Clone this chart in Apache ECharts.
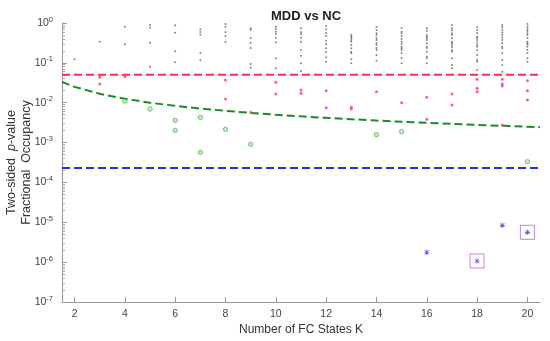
<!DOCTYPE html>
<html><head><meta charset="utf-8">
<script src="https://cdn.jsdelivr.net/npm/echarts@6/dist/echarts.min.js"></script>
<style>html,body{margin:0;padding:0;background:#fff}#c{width:550px;height:341px}</style>
</head><body><div id="c"></div>
<script>
// ---- data ----
var xTicks = [2,4,6,8,10,12,14,16,18,20];
var yTickExps = [0,-1,-2,-3,-4,-5,-6,-7];
// not significant (p > 0.05)
var nsPoints = [
 [2,0.123],[3,0.34],[4,0.81],[4,0.292],
 [5,0.89],[5,0.76],[5,0.32],[5,0.080],
 [6,0.875],[6,0.571],[6,0.195],[6,0.103],
 [7,0.695],[7,0.594],[7,0.508],[7,0.177],[7,0.116],
 [8,0.944],[8,0.79],[8,0.585],[8,0.472],[8,0.334],
 [9,0.736],[9,0.667],[9,0.42],[9,0.315],[9,0.236],[9,0.0936],[9,0.0756],
 [10,0.81],[10,0.707],[10,0.605],[10,0.53],[10,0.428],[10,0.328],[10,0.130],[10,0.0730],
 [11,0.736],[11,0.585],[11,0.521],[11,0.428],[11,0.34],[11,0.210],[11,0.151],[11,0.0975],[11,0.0625],
 [12,0.84],[12,0.695],[12,0.561],[12,0.472],[12,0.36],[12,0.292],[12,0.232],[12,0.187],[12,0.138],[12,0.107],
 [13,0.5],[13,0.453],[13,0.42],[13,0.375],[13,0.34],[13,0.281],[13,0.232],[13,0.191],[13,0.174],[13,0.123],[13,0.0975],
 [14,0.79],[14,0.667],[14,0.552],[14,0.5],[14,0.42],[14,0.375],[14,0.31],[14,0.281],[14,0.236],[14,0.210],[14,0.157],[14,0.113],
 [15,0.75],[15,0.605],[15,0.552],[15,0.472],[15,0.397],[15,0.34],[15,0.297],[15,0.254],[15,0.232],[15,0.210],[15,0.177],[15,0.132],[15,0.0975],
 [16,0.736],[16,0.63],[16,0.5],[16,0.453],[16,0.42],[16,0.375],[16,0.31],[16,0.254],[16,0.236],[16,0.191],[16,0.143],[16,0.130],[16,0.0975],
 [17,0.89],[17,0.736],[17,0.648],[17,0.552],[17,0.5],[17,0.413],[17,0.34],[17,0.315],[17,0.281],[17,0.25],[17,0.210],[17,0.191],[17,0.130],[17,0.0883],[17,0.073],
 [18,0.78],[18,0.667],[18,0.561],[18,0.453],[18,0.42],[18,0.375],[18,0.324],[18,0.281],[18,0.254],[18,0.21],[18,0.157],[18,0.118],[18,0.107],[18,0.0662],
 [19,0.89],[19,0.78],[19,0.667],[19,0.578],[19,0.5],[19,0.433],[19,0.375],[19,0.315],[19,0.254],[19,0.232],[19,0.177],[19,0.118],[19,0.0883],[19,0.06],
 [20,0.944],[20,0.81],[20,0.707],[20,0.63],[20,0.552],[20,0.5],[20,0.42],[20,0.34],[20,0.31],[20,0.289],[20,0.254],[20,0.21],[20,0.177],[20,0.130],[20,0.107]
];
// uncorrected significant (0.05/K < p < 0.05)
var uncorrPoints = [
 [3,0.0434],[3,0.0295],[4,0.045],[8,0.0372],[8,0.0124],[9,0.00575],
 [10,0.0325],[10,0.0166],[11,0.0208],[11,0.0172],[12,0.02],[12,0.0075],
 [13,0.00767],[13,0.00696],[14,0.0189],[15,0.01],[16,0.0137],[16,0.00384],
 [17,0.0166],[17,0.00877],[18,0.0387],[18,0.023],[18,0.0189],
 [19,0.0387],[19,0.0295],[19,0.0263],[19,0.00276],
 [20,0.0357],[20,0.02],[20,0.0117]
];
// significant after correction within K
var withinKPoints = [
 [4,0.0110],[5,0.00696],[6,0.00362],[6,0.00203],[7,0.0043],[7,0.00057],
 [8,0.00215],[9,0.000906],[14,0.00158],[15,0.00188],[20,0.000331]
];
// significant after correction across all K
var acrossKPoints = [[16,1.77e-6],[18,1.07e-6],[19,8.4e-6],[20,5.6e-6]];
var boxedPoints = [[18,1.07e-6],[20,5.6e-6]];
// thresholds
var alphaLine = [[1.5,0.05],[20.5,0.05]];
var withinKLine = [[1.5,0.0333],[2,0.025],[3,0.0167],[4,0.0125],[5,0.01],[6,0.00833],[7,0.00714],
 [8,0.00625],[9,0.00556],[10,0.005],[11,0.00455],[12,0.00417],[13,0.00385],[14,0.00357],
 [15,0.00333],[16,0.00313],[17,0.00294],[18,0.00278],[19,0.00263],[20,0.0025],[20.5,0.00244]];
var acrossKLine = [[1.5,2.3e-4],[20.5,2.3e-4]];

// ---- chart ----
var majorY = yTickExps.map(function(e){return Math.pow(10,e);});
var minorY = [];
for (var e=-7;e<0;e++){ for (var m=2;m<10;m++){ minorY.push(m*Math.pow(10,e)); } }
var FONT = 'Liberation Sans, Arial, sans-serif';
var asterisk = 'path://M4.4,0H5.6V10H4.4Z M0,4.4H10V5.6H0Z M0.8,1.6L1.6,0.8L9.2,8.4L8.4,9.2Z M8.4,0.8L9.2,1.6L1.6,9.2L0.8,8.4Z';
var chart = echarts.init(document.getElementById('c'), null, {renderer:'canvas'});
chart.setOption({
  animation:false,
  backgroundColor:'#fff',
  title:{text:'MDD vs NC', left:301, top:5, textAlign:'center',
    textStyle:{fontFamily:FONT, fontSize:13, fontWeight:'bold', color:'#222'}},
  grid:{left:62, right:10, top:23, bottom:39, containLabel:false, outerBoundsMode:'none'},
  xAxis:{type:'value', min:1.5, max:20.5,
    name:'Number of FC States K', nameLocation:'middle', nameGap:22, nameMoveOverlap:false,
    nameTextStyle:{fontFamily:FONT, fontSize:12, color:'#333'},
    axisLine:{lineStyle:{color:'#999', width:1}},
    axisTick:{inside:true, length:5, customValues:xTicks, lineStyle:{color:'#999'}},
    axisLabel:{customValues:xTicks, margin:7, fontFamily:FONT, fontSize:10.5, color:'#444'},
    splitLine:{show:false}},
  yAxis:[{type:'log', logBase:10, min:1e-7, max:1,
    name:'{a|Two-sided  }{i|p}{a|-value}\n{a|Fractional  Occupancy}', nameLocation:'middle', nameGap:28,
    nameMoveOverlap:false,
    nameTextStyle:{fontFamily:FONT, fontSize:12.5, color:'#333', lineHeight:15,
      rich:{a:{fontFamily:FONT, fontSize:12.5, color:'#333', lineHeight:15},
            i:{fontFamily:FONT, fontSize:12.5, color:'#333', fontStyle:'italic', lineHeight:15}}},
    axisLine:{show:true, lineStyle:{color:'#999', width:1}},
    axisTick:{inside:true, length:5, customValues:majorY, lineStyle:{color:'#999'}},
    axisLabel:{customValues:majorY, margin:9, color:'#444',
      formatter:function(v){ var e=Math.round(Math.log10(v)); return '{b|10}{s|'+e+'}'; },
      rich:{b:{fontFamily:FONT, fontSize:10.5, color:'#444'},
            s:{fontFamily:FONT, fontSize:7.5, color:'#444', padding:[0,0,7,0]}}},
    splitLine:{show:false}},
   {type:'log', logBase:10, min:1e-7, max:1, position:'left',
    axisLine:{show:false},
    axisTick:{inside:true, length:3, customValues:minorY, lineStyle:{color:'#aaa'}},
    axisLabel:{show:false}, splitLine:{show:false}}],
  series:[
    {type:'line', data:alphaLine, symbol:'none', z:2,
     lineStyle:{color:'#ff2a55', width:2, type:[8,4]}},
    {type:'line', data:withinKLine, symbol:'none', z:2,
     lineStyle:{color:'#1a8a2a', width:2, type:[8,4]}},
    {type:'line', data:acrossKLine, symbol:'none', z:2,
     lineStyle:{color:'#2233dd', width:2, type:[8,4]}},
    {type:'scatter', data:nsPoints, symbol:'circle', symbolSize:2, z:3,
     itemStyle:{color:'#666'}},
    {type:'scatter', data:uncorrPoints, symbol:'circle', symbolSize:3, z:3,
     itemStyle:{color:'#ff3a5a'}},
    {type:'scatter', data:withinKPoints, symbol:'circle', symbolSize:4.5, z:3,
     itemStyle:{color:'rgba(150,215,150,0.7)', borderColor:'#4aa84a', borderWidth:0.8}},
    {type:'scatter', data:acrossKPoints, symbol:asterisk, symbolSize:5.5, z:3,
     itemStyle:{color:'#2a2aff'}},
    {type:'scatter', data:boxedPoints, symbol:'rect', symbolSize:14, z:3,
     itemStyle:{color:'rgba(0,0,0,0)', borderColor:'#c060d0', borderWidth:1}}
  ]
});
</script></body></html>
